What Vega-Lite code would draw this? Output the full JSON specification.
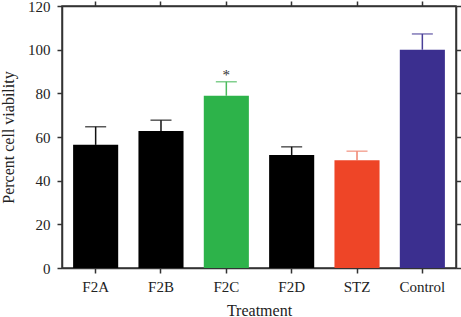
{
  "$schema": "https://vega.github.io/schema/vega-lite/v6.json",
  "width": 394,
  "height": 262,
  "autosize": {"type": "none"},
  "padding": {"left": 62, "top": 6, "right": 5, "bottom": 49},
  "background": "white",
  "config": {
    "view": {"stroke": "#333333", "strokeWidth": 1.5},
    "font": "Liberation Serif",
    "axis": {
      "domainColor": "#333333",
      "domainWidth": 1.5,
      "tickColor": "#333333",
      "tickWidth": 1.5,
      "tickSize": 5,
      "grid": false,
      "labelFont": "Liberation Serif",
      "labelFontSize": 15,
      "labelColor": "#222222",
      "titleFont": "Liberation Serif",
      "titleFontSize": 16,
      "titleFontWeight": "normal",
      "titleColor": "#222222"
    }
  },
  "data": {
    "values": [
      {"treatment": "F2A", "viability": 56.4, "err": 64.7, "star": ""},
      {"treatment": "F2B", "viability": 62.8, "err": 67.7, "star": ""},
      {"treatment": "F2C", "viability": 78.9, "err": 85.3, "star": "*"},
      {"treatment": "F2D", "viability": 51.7, "err": 55.5, "star": ""},
      {"treatment": "STZ", "viability": 49.4, "err": 53.5, "star": ""},
      {"treatment": "Control", "viability": 100, "err": 107.2, "star": ""}
    ]
  },
  "resolve": {"axis": {"x": "independent", "y": "independent"}},
  "layer": [
    {
      "mark": {"type": "rule", "strokeWidth": 1.5},
      "encoding": {
        "x": {"field": "treatment", "type": "nominal", "sort": null,
              "scale": {"paddingInner": 0.31, "paddingOuter": 0.17},
              "axis": {"orient": "bottom", "labelAngle": 0, "labelPadding": 6, "title": "Treatment", "titlePadding": 8}},
        "y": {"field": "viability", "type": "quantitative",
              "scale": {"domain": [0, 120], "nice": false},
              "axis": {"orient": "left", "values": [0, 20, 40, 60, 80, 100, 120], "labelPadding": 7, "title": "Percent cell viability", "titlePadding": 11}},
        "y2": {"field": "err"},
        "color": {"field": "treatment", "type": "nominal", "legend": null,
                  "scale": {"domain": ["F2A", "F2B", "F2C", "F2D", "STZ", "Control"],
                            "range": ["#111111", "#111111", "#4cbb5e", "#111111", "#f0826c", "#4a3f98"]}}
      }
    },
    {
      "mark": {"type": "tick", "size": 21, "thickness": 1.5},
      "encoding": {
        "x": {"field": "treatment", "type": "nominal", "sort": null,
              "axis": {"orient": "top", "labels": false, "title": null}},
        "y": {"field": "err", "type": "quantitative",
              "axis": {"orient": "right", "values": [0, 20, 40, 60, 80, 100, 120], "labels": false, "title": null}},
        "color": {"field": "treatment", "type": "nominal", "legend": null}
      }
    },
    {
      "mark": {"type": "bar"},
      "encoding": {
        "x": {"field": "treatment", "type": "nominal", "sort": null, "axis": null},
        "y": {"field": "viability", "type": "quantitative", "axis": null},
        "fill": {"field": "treatment", "type": "nominal", "legend": null,
                 "scale": {"domain": ["F2A", "F2B", "F2C", "F2D", "STZ", "Control"],
                           "range": ["#000000", "#000000", "#2db34a", "#000000", "#ee4527", "#3b2f8f"]}}
      }
    },
    {
      "mark": {"type": "text", "dy": -7, "fontSize": 15, "color": "#333333", "font": "Liberation Serif"},
      "encoding": {
        "x": {"field": "treatment", "type": "nominal", "sort": null, "axis": null},
        "y": {"field": "err", "type": "quantitative", "axis": null},
        "text": {"field": "star"}
      }
    }
  ]
}
